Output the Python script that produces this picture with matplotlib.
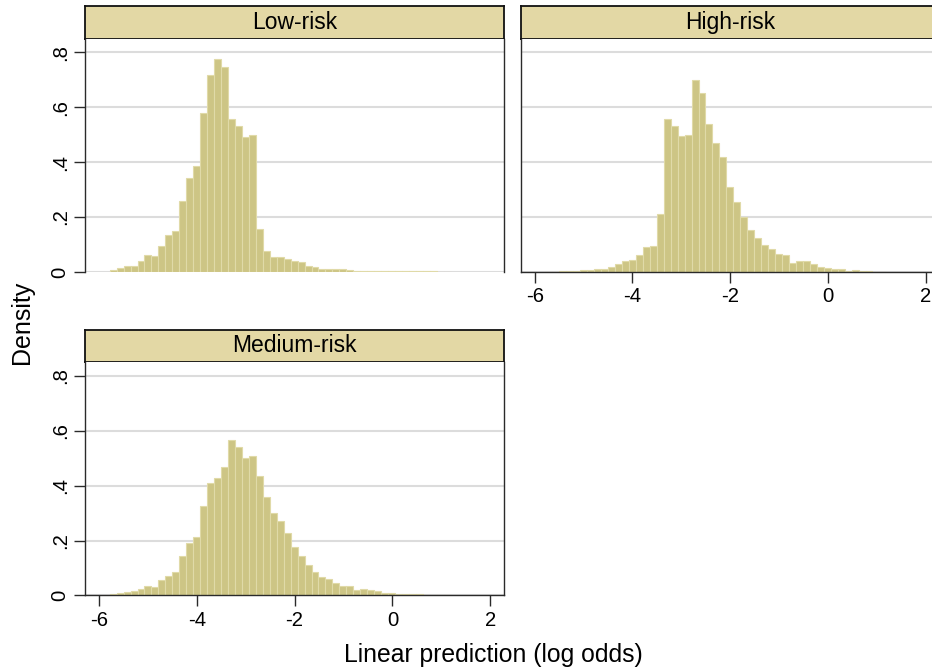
import numpy as np
import matplotlib
matplotlib.use("Agg")
import matplotlib.pyplot as plt

# histogram bins shared by all three groups
bin_start = -5.78
bin_width = 0.1423
n_bins = 49

low_risk = [0.006, 0.013, 0.021, 0.023, 0.040, 0.062, 0.059, 0.093, 0.133, 0.148,
            0.259, 0.343, 0.385, 0.580, 0.717, 0.775, 0.748, 0.558, 0.532, 0.493,
            0.499, 0.155, 0.076, 0.056, 0.056, 0.046, 0.040, 0.035, 0.021, 0.018,
            0.012, 0.010, 0.010, 0.009, 0.006, 0.004, 0.005, 0.005, 0.004, 0.002,
            0.003, 0.002, 0.002, 0.002, 0.004, 0.002, 0.002, 0.0, 0.0]
high_risk = [0.001, 0.001, 0.002, 0.004, 0.005, 0.006, 0.007, 0.012, 0.010, 0.017,
             0.028, 0.039, 0.045, 0.060, 0.089, 0.093, 0.210, 0.558, 0.532, 0.495,
             0.499, 0.701, 0.652, 0.540, 0.471, 0.418, 0.308, 0.254, 0.199, 0.153,
             0.122, 0.098, 0.082, 0.065, 0.061, 0.033, 0.039, 0.038, 0.029, 0.017,
             0.013, 0.010, 0.009, 0.005, 0.006, 0.004, 0.002, 0.001, 0.001]
medium_risk = [0.004, 0.010, 0.012, 0.015, 0.024, 0.035, 0.032, 0.056, 0.071, 0.087,
               0.144, 0.191, 0.213, 0.326, 0.409, 0.427, 0.468, 0.567, 0.541, 0.502,
               0.508, 0.437, 0.358, 0.299, 0.270, 0.226, 0.178, 0.142, 0.109, 0.084,
               0.066, 0.059, 0.046, 0.034, 0.034, 0.018, 0.024, 0.021, 0.017, 0.010,
               0.009, 0.006, 0.006, 0.004, 0.005, 0.003, 0.003, 0.002, 0.002]

x_ticks = [-6, -4, -2, 0, 2]
y_ticks = [0, 0.2, 0.4, 0.6, 0.8]
y_ticklabels = ["0", ".2", ".4", ".6", ".8"]

plt.rcParams['font.family'] = ['Liberation Sans', 'DejaVu Sans']

W, H = 932, 670
BAR = '#cdc585'
BAR_EDGE = '#e0daa8'
STRIP = '#e3d8a5'
GRID = '#dcdcdc'
SPINE = '#2a2a2a'

fig = plt.figure(figsize=(W / 100, H / 100), dpi=100)


def px_axes(x0, y0, x1, y1):
    # pixel box (top-left origin) -> figure fraction axes
    return fig.add_axes([x0 / W, 1 - y1 / H, (x1 - x0) / W, (y1 - y0) / H])


def panel(x0, y_top, title, heights, show_x, show_y):
    strip_h = 32.4
    plot_h = 233.2
    width = 418.5
    st = px_axes(x0, y_top, x0 + width, y_top + strip_h)
    st.set_facecolor(STRIP)
    st.set_xticks([])
    st.set_yticks([])
    for s in st.spines.values():
        s.set_color('#111111')
        s.set_linewidth(1.3)
    st.text(0.5, 0.5, title, ha='center', va='center', fontsize=16.5,
            transform=st.transAxes)

    ax = px_axes(x0, y_top + strip_h, x0 + width, y_top + strip_h + plot_h)
    edges = bin_start + bin_width * np.arange(n_bins)
    ax.bar(edges, heights, width=bin_width, align='edge', color=BAR,
           edgecolor=BAR_EDGE, linewidth=0.8, zorder=2)
    ax.set_xlim(-6.285, 2.272)
    ax.set_ylim(0, 0.85)
    ax.set_yticks(y_ticks)
    ax.grid(axis='y', color=GRID, linewidth=1.5, zorder=0)
    ax.set_axisbelow(True)
    ax.spines['top'].set_visible(False)
    for s in ['left', 'right', 'bottom']:
        ax.spines[s].set_color(SPINE)
        ax.spines[s].set_linewidth(1.0)
    if show_x:
        ax.set_xticks(x_ticks)
        ax.set_xticklabels([str(t) for t in x_ticks])
        ax.tick_params(axis='x', length=8, width=1.0, color=SPINE,
                       labelsize=14.6, pad=3)
    else:
        ax.set_xticks([])
        ax.spines['bottom'].set_visible(False)
    if show_y:
        ax.set_yticklabels(y_ticklabels, rotation=90, va='center')
        ax.tick_params(axis='y', length=8, width=1.0, color=SPINE,
                       labelsize=14.6, pad=3)
    else:
        ax.tick_params(axis='y', length=0, labelleft=False)
    return ax


panel(85, 6.3, "Low-risk", low_risk, show_x=False, show_y=True)
panel(520.7, 6.3, "High-risk", high_risk, show_x=True, show_y=False)
panel(85, 329.8, "Medium-risk", medium_risk, show_x=True, show_y=True)

fig.text(22 / W, 1 - 322 / H, "Density", rotation=90, ha='center', va='center',
         fontsize=18)
fig.text(493 / W, 1 - 655 / H, "Linear prediction (log odds)", ha='center',
         va='center', fontsize=17.8)

fig.savefig("out.png", dpi=100)
plt.close(fig)
